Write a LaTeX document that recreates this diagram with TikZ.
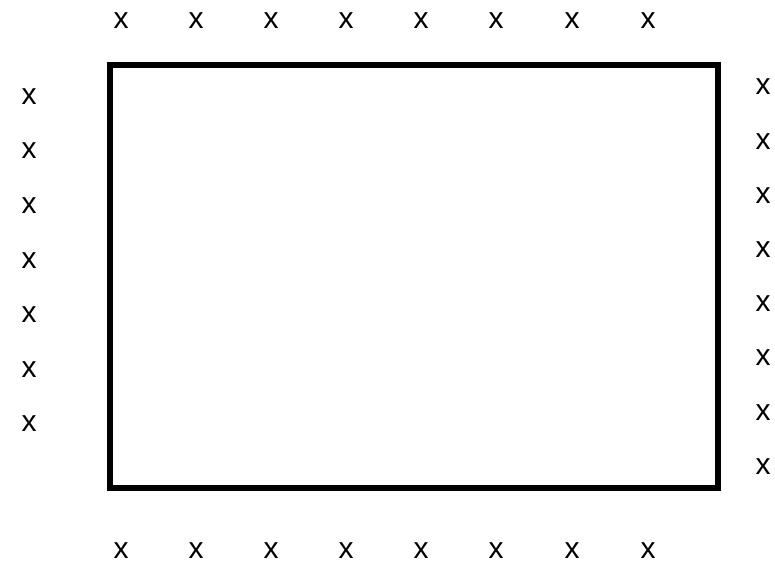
\documentclass[tikz,border=0pt]{standalone}
\usepackage{fontspec}
\setmainfont{Liberation Sans}
\begin{document}
\begin{tikzpicture}[x=1pt,y=-1pt,
  mark label/.style={inner sep=0pt, font=\fontsize{30}{32}\selectfont},
  frame/.style={draw=black, line width=5.5pt, line join=miter}]
\useasboundingbox (0,0) rectangle (775,564);
\coordinate (tl) at (110,65);
\coordinate (br) at (718,488);
\draw[frame] (tl) rectangle (br);
% top and bottom rows
\foreach \i/\xx in {1/121,2/196,3/271,4/346,5/421,6/496,7/572,8/648}{
  \node[mark label] (t\i) at (\xx,21) {x};
  \node[mark label] (b\i) at (\xx,551) {x};
}
% left column
\foreach \i/\yy in {1/97,2/151,3/206,4/261,5/315,6/370,7/424}{
  \node[mark label] (l\i) at (29,\yy) {x};
}
% right column
\foreach \i/\yy in {1/87,2/142,3/196,4/250,5/304,6/358,7/413,8/467}{
  \node[mark label] (r\i) at (763,\yy) {x};
}
\end{tikzpicture}
\end{document}
